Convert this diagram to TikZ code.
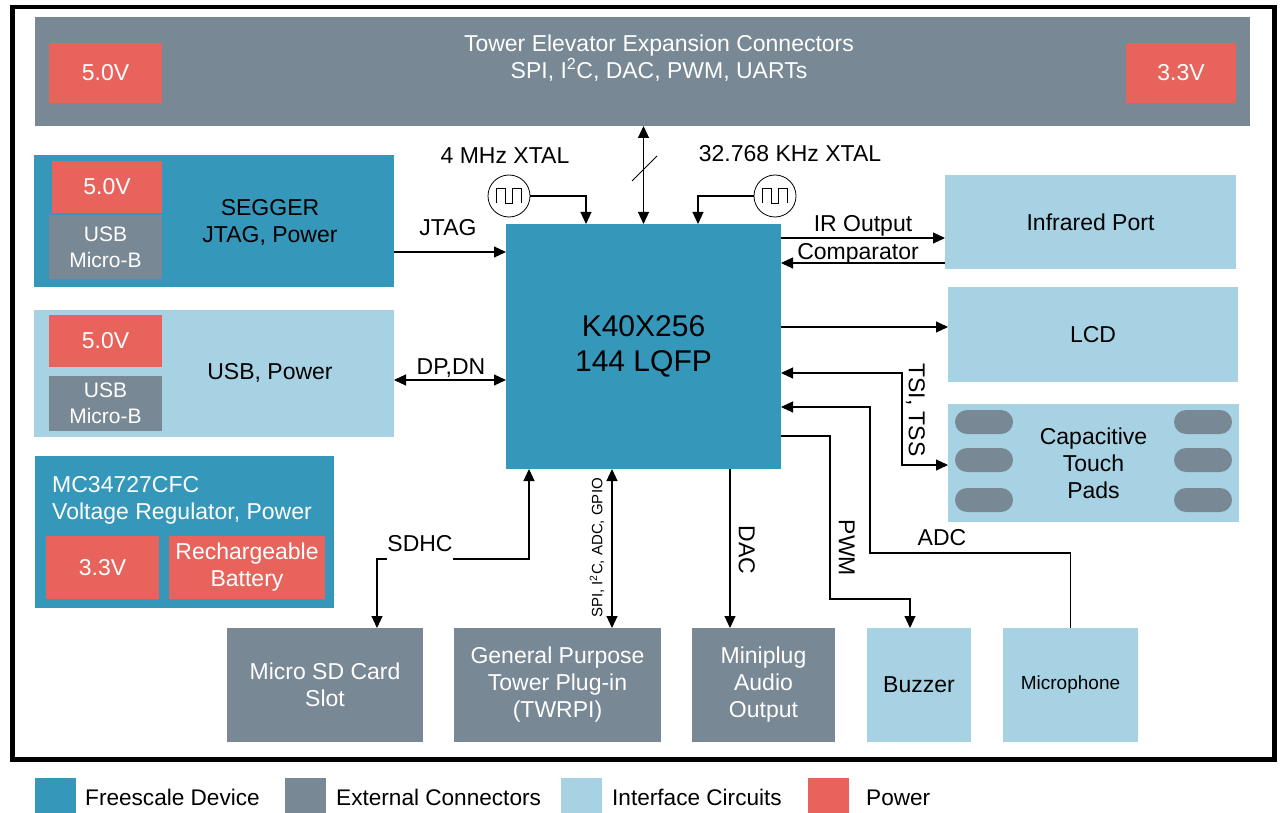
\documentclass[tikz,border=0pt]{standalone}
\usepackage{fontspec}
\setmainfont{Liberation Sans}
\usetikzlibrary{arrows.meta,calc}
\definecolor{fsblue}{HTML}{3597BA}
\definecolor{extgray}{HTML}{788895}
\definecolor{ifblue}{HTML}{A6D2E3}
\definecolor{pwred}{HTML}{E8635B}
\tikzset{
  >={Triangle[length=12pt,width=11pt]},
  conn/.style={line width=1.1pt, draw=black},
  lbl/.style={font=\fontsize{23}{27}\selectfont, inner sep=0pt, text height=16.5pt, text depth=0pt},
  txt/.style={font=\fontsize{23}{27}\selectfont, inner sep=0pt, align=center},
  blk/.style={anchor=north west, inner sep=0pt, outer sep=0pt, align=center, font=\fontsize{23}{27}\selectfont},
  pw/.style={fill=pwred, text=white},
  ex/.style={fill=extgray, text=white},
  fs/.style={fill=fsblue},
  ifc/.style={fill=ifblue},
  xtal/.style={circle, draw, line width=0.8pt, minimum size=42pt, inner sep=0pt},
  lgd/.style={anchor=north west, inner sep=0pt, minimum width=41pt, minimum height=35pt},
  lgt/.style={lbl, font=\fontsize{22.6}{26}\selectfont, anchor=west},
  small/.style={font=\fontsize{21}{26}\selectfont}
}
\newcommand{\mkbox}[7]{\node[blk,#6,minimum width={#4-#2}, minimum height={#5-#3}] (#1) at (#2,#3) {#7};}
\begin{document}
\begin{tikzpicture}[x=1pt,y=-1pt]
\useasboundingbox (0,0) rectangle (1280,813);
\draw[line width=4.5pt] (12.5,7) rectangle (1274.5,759.5);

% top bar
\mkbox{top}{35}{17}{1250}{126}{ex}{}
\mkbox{t5v}{49}{43}{162}{103}{pw}{5.0V}
\mkbox{t33v}{1126}{43}{1236}{103}{pw}{3.3V}
\node[txt,text=white] (toptxt) at (659,58.5) {Tower Elevator Expansion Connectors\\SPI, I\textsuperscript{2}C, DAC, PWM, UARTs};

% SEGGER
\mkbox{segger}{34}{155}{394}{287}{fs}{}
\mkbox{seg5v}{52}{161}{162}{213}{pw}{5.0V}
\mkbox{segusb}{49}{215}{162}{279}{ex,small}{USB\\Micro-B}
\node[txt] (segtxt) at (270,222) {SEGGER\\JTAG, Power};

% USB power
\mkbox{usbp}{34}{310}{394}{437}{ifc}{}
\mkbox{usb5v}{49}{315}{162}{367}{pw}{5.0V}
\mkbox{usbusb}{49}{376}{162}{431}{ex,small}{USB\\Micro-B}
\node[txt] (usbtxt) at (270,373) {USB, Power};

% regulator
\mkbox{mc}{35}{456}{334}{608}{fs}{}
\node[txt,align=left,anchor=west,text=white] (mctxt) at (52,500) {MC34727CFC\\Voltage Regulator, Power};
\mkbox{mc33}{46}{536}{159}{599}{pw}{3.3V}
\mkbox{mcbat}{169}{536}{325}{599}{pw}{Rechargeable\\Battery}

% MCU
\mkbox{k40}{506}{224}{781}{469}{fs,font=\fontsize{30}{35}\selectfont}{K40X256\\144 LQFP}

% right side
\mkbox{ir}{945}{175}{1236}{269}{ifc}{Infrared Port}
\mkbox{lcd}{948}{287}{1238}{382}{ifc}{LCD}
\mkbox{cap}{948}{404}{1239}{522}{ifc}{Capacitive\\Touch\\Pads}
\foreach \yy in {410,448,488} {
  \fill[extgray, rounded corners=12pt] (955,\yy) rectangle ++(58,24);
  \fill[extgray, rounded corners=12pt] (1174,\yy) rectangle ++(58,24);
}

% bottom row
\mkbox{sd}{227}{628}{423}{742}{ex}{Micro SD Card\\Slot}
\mkbox{gp}{454}{628}{661}{742}{ex}{General Purpose\\Tower Plug-in\\(TWRPI)}
\mkbox{mp}{692}{628}{835}{742}{ex}{Miniplug\\Audio\\Output}
\mkbox{bz}{867}{628}{971}{742}{ifc}{Buzzer}
\mkbox{mic}{1003}{628}{1138}{742}{ifc,font=\fontsize{19}{23}\selectfont}{Microphone}

% crystals
\node[xtal] (xt1) at (509,196) {};
\node[xtal] (xt2) at (775,196) {};
\draw[line width=0.8pt] ([shift={(-13,7)}]xt1.center) -- ++(0,-15) -- ++(9,0) -- ++(0,15) -- ++(7,0) -- ++(0,-15) -- ++(9,0) -- ++(0,15);
\draw[line width=0.8pt] ([shift={(-13,7)}]xt2.center) -- ++(0,-15) -- ++(9,0) -- ++(0,15) -- ++(7,0) -- ++(0,-15) -- ++(9,0) -- ++(0,15);
\node[lbl] (l4m) at (505,155) {4 MHz XTAL};
\node[lbl] (l32k) at (790,153) {32.768 KHz XTAL};
\draw[conn,->] (xt1.east) -| ([xshift=80pt]k40.north west);
\draw[conn,->] (xt2.west) -| ([xshift=192pt]k40.north west);

% tower bus
\draw[conn,<->] (k40.north) -- (k40.north |- top.south);
\draw[line width=0.8pt] (632,181) -- (657,156);

% left connectors
\draw[conn,->] (segger.east |- 0,252) -- (k40.west |- 0,252);
\node[lbl] (ljtag) at (448,227) {JTAG};
\draw[conn,<->] (usbp.east |- 0,380) -- (k40.west |- 0,380);
\node[lbl] (ldp) at (451,366) {DP,DN};

% right connectors
\draw[conn,->] (k40.east |- 0,238) -- (ir.west |- 0,238);
\node[lbl] (lir) at (863,223) {IR Output};
\draw[conn,<-] (k40.east |- 0,263) -- (ir.west |- 0,263);
\node[lbl] (lcmp) at (858,251) {Comparator};
\draw[conn,->] (k40.east |- 0,327) -- (lcd.west |- 0,327);
\draw[conn,<->] (k40.east |- 0,373) -- (902,373) -- (902,465) -- (cap.west |- 0,465);
\node[lbl,rotate=-90] (ltsi) at (917,410) {TSI, TSS};
\draw[conn,->] (mic.north) |- (870,553) |- (k40.east |- 0,407);
\node[lbl] (ladc) at (942,537) {ADC};
\draw[conn,->] (k40.east |- 0,436) -| (830,599) -| (910,0 |- bz.north);
\node[lbl,rotate=-90] (lpwm) at (847,548) {PWM};

% bottom connectors
\draw[conn,<->] (529,0 |- k40.south) |- (377,559) -- (377,0 |- sd.north);
\node[lbl,anchor=base,fill=white,text depth=10pt,minimum width=64pt] (lsd) at (420,551) {SDHC};
\draw[conn,<->] (612,0 |- k40.south) -- (612,0 |- gp.north);
\node[lbl,rotate=90,font=\fontsize{15}{18}\selectfont,text height=10.5pt] (lspi) at (597,548) {SPI, I\textsuperscript{2}C, ADC, GPIO};
\draw[conn,->] (730,0 |- k40.south) -- (730,0 |- mp.north);
\node[lbl,rotate=-90] (ldac) at (747,550) {DAC};

% legend
\node[lgd,fs] (lg1) at (35,778) {};
\node[lgt] (lt1) at (85,797) {Freescale Device};
\node[lgd,ex] (lg2) at (285,778) {};
\node[lgt] (lt2) at (336,797) {External Connectors};
\node[lgd,ifc] (lg3) at (561,778) {};
\node[lgt] (lt3) at (612,797) {Interface Circuits};
\node[lgd,pw] (lg4) at (808,778) {};
\node[lgt] (lt4) at (866,797) {Power};
\end{tikzpicture}
\end{document}
